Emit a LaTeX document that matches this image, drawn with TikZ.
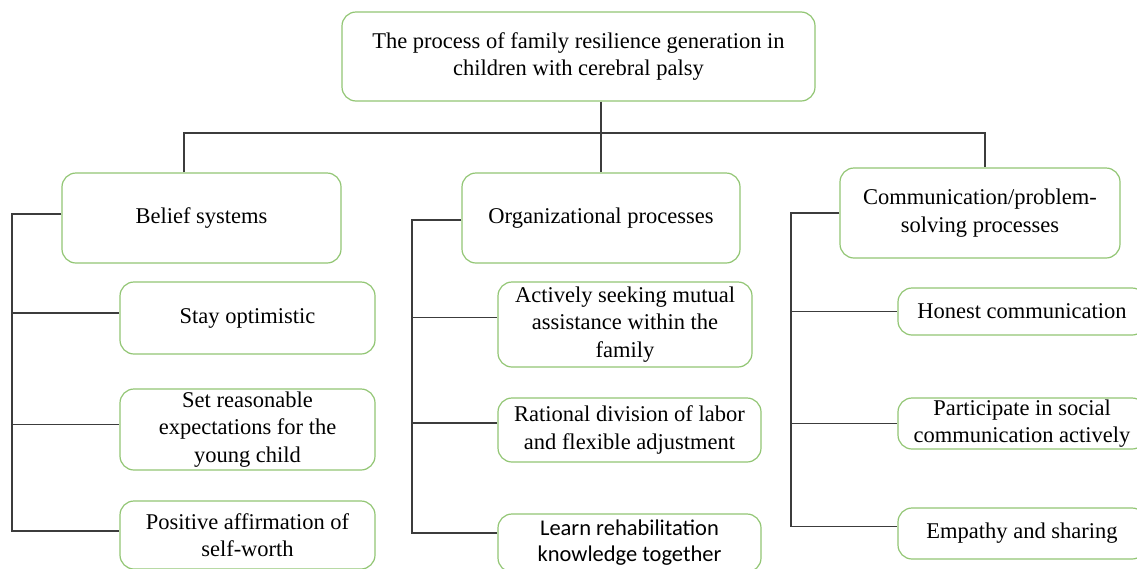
\documentclass[tikz,border=0pt]{standalone}
\usepackage{fontspec}
\setmainfont{Liberation Serif}
\newfontfamily\calibri{Carlito}
\definecolor{boxgreen}{RGB}{146,198,116}
\definecolor{linegray}{RGB}{60,60,60}
\tikzset{
  box/.style={draw=boxgreen, line width=1.2pt, rounded corners=14pt, align=center,
    inner sep=1pt, font=\fontsize{22.5}{27.5}\selectfont},
  link/.style={draw=linegray, line width=1.1pt}
}
\begin{document}
\begin{tikzpicture}[x=1pt,y=-1pt]
        \clip (0,0) rectangle (1137,568);
        \fill[white] (0,0) rectangle (1137,568);
        % top and the three groups
        \node[box, minimum width=473pt, minimum height=89pt] (top) at (578.5,56.5) {The process of family resilience generation in\\children with cerebral palsy};
        \node[box, minimum width=279pt, minimum height=90pt] (belief) at (201.5,218) {Belief systems};
        \node[box, minimum width=278pt, minimum height=90pt] (org) at (601,218) {Organizational processes};
        \node[box, minimum width=280pt, minimum height=90pt] (comm) at (980,213) {Communication/problem-\\solving processes};
        % belief items
        \node[box, minimum width=255pt, minimum height=72pt] (stay) at (247.5,318) {Stay optimistic};
        \node[box, minimum width=255pt, minimum height=81pt] (expect) at (247.5,429.5) {Set reasonable\\expectations for the\\young child};
        \node[box, minimum width=255pt, minimum height=68pt] (worth) at (247.5,535) {Positive affirmation of\\self-worth};
        % organizational items
        \node[box, minimum width=254pt, minimum height=85pt] (mutual) at (625,324.5) {Actively seeking mutual\\assistance within the\\family};
        \node[box, minimum width=263pt, minimum height=64pt] (labor) at (629.5,430) {Rational division of labor\\and flexible adjustment};
        \node[box, minimum width=263pt, minimum height=58pt, font=\calibri\fontsize{22.5}{26}\selectfont] (learn) at (629.5,543) {Learn rehabilitation\\knowledge together};
        % communication items
        \node[box, minimum width=248pt, minimum height=47pt] (honest) at (1022,311.5) {Honest communication};
        \node[box, minimum width=248pt, minimum height=51pt] (social) at (1022,423.5) {Participate in social\\communication actively};
        \node[box, minimum width=248pt, minimum height=51pt] (empathy) at (1022,533.5) {Empathy and sharing};
        % connectors
        \coordinate (bus) at (602,133);
        \coordinate (spL) at (12,0);
        \coordinate (spM) at (412,0);
        \coordinate (spR) at (791,0);
        \draw[link] (top.south -| org.north) -- (org.north);
        \draw[link] ([xshift=-17.5pt]belief.north) |- (bus) -| ([xshift=5pt]comm.north);
        \draw[link] ([yshift=4pt]belief.west) -| ([yshift=4pt]worth.west -| spL) -- ([yshift=4pt]worth.west);
        \draw[link] ([yshift=-2pt]org.west) -| ([yshift=10pt]learn.west -| spM) -- ([yshift=10pt]learn.west);
        \draw[link] (comm.west) -| ([yshift=7pt]empathy.west -| spR) -- ([yshift=7pt]empathy.west);
        \foreach \n in {stay,expect}
          \draw[link] ([yshift=5pt]\n.west -| spL) -- ([yshift=5pt]\n.west);
        \foreach \n in {mutual,labor}
          \draw[link] ([yshift=7pt]\n.west -| spM) -- ([yshift=7pt]\n.west);
        \foreach \n in {honest,social}
          \draw[link] (\n.west -| spR) -- (\n.west);
    \end{tikzpicture}
\end{document}
